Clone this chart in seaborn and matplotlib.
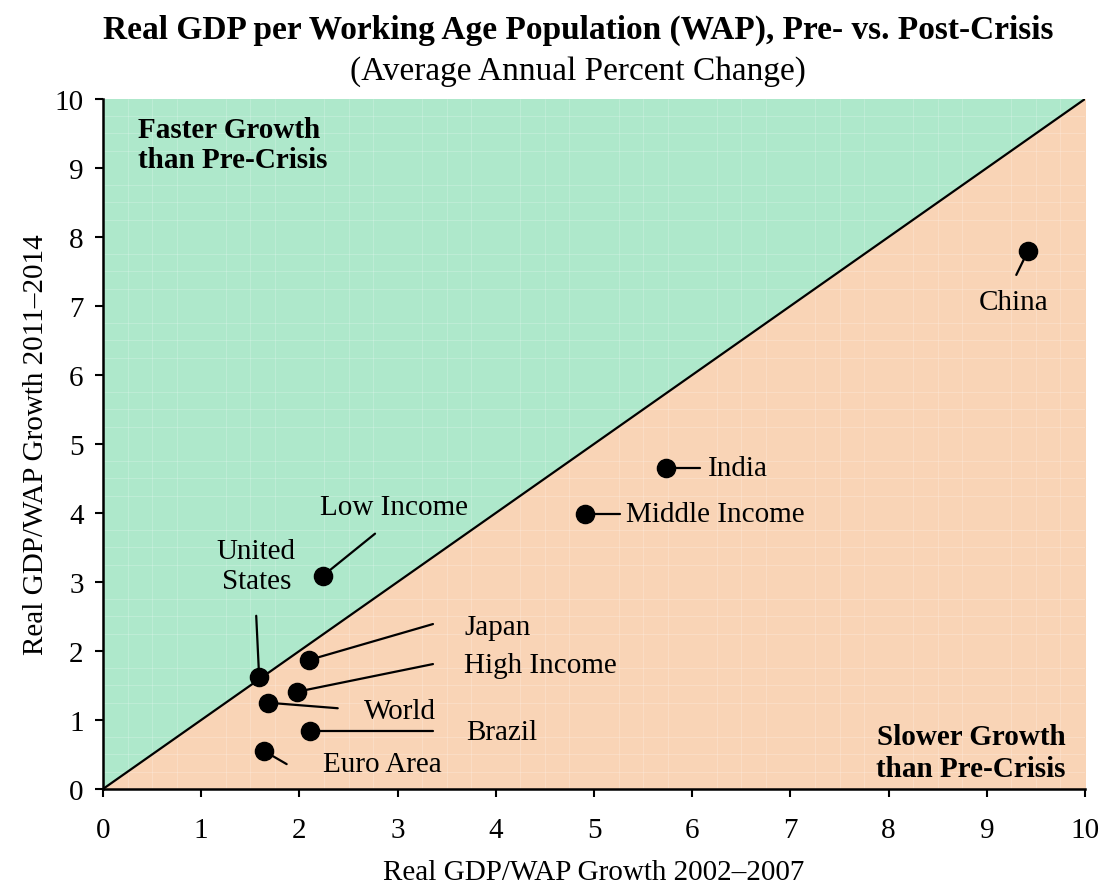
import matplotlib
matplotlib.use("Agg")
import matplotlib.pyplot as plt
import seaborn as sns
import pandas as pd

# --- data ---
names = ["China", "India", "Middle Income", "Low Income", "United States",
         "Japan", "High Income", "World", "Brazil", "Euro Area"]
pre_crisis = [9.42, 5.73, 4.91, 2.24, 1.59, 2.10, 1.98, 1.68, 2.11, 1.64]
post_crisis = [7.80, 4.65, 3.99, 3.09, 1.62, 1.87, 1.41, 1.25, 0.84, 0.55]

# label text position and leader-line end point for each country
label_text = ["China", "India", "Middle Income", "Low Income", "United\nStates",
              "Japan", "High Income", "World", "Brazil", "Euro Area"]
label_xy = [(9.27, 7.06), (6.16, 4.65), (5.33, 3.99), (2.96, 4.09), (1.56, 3.23),
            (3.68, 2.35), (3.68, 1.80), (2.66, 1.13), (3.70, 0.83), (2.24, 0.36)]
leader_end = [(9.3, 7.45), (6.08, 4.65), (5.26, 3.99), (2.77, 3.70), (1.56, 2.51),
              (3.36, 2.39), (3.36, 1.81), (2.39, 1.17), (3.36, 0.84), (1.87, 0.36)]
label_ha = ["center", "left", "left", "center", "center",
            "left", "left", "left", "left", "left"]

df = pd.DataFrame({"country": names, "pre": pre_crisis, "post": post_crisis})

sns.set_style("white")
plt.rcParams["font.family"] = ["Liberation Serif", "DejaVu Serif"]
plt.rcParams["text.color"] = "black"
plt.rcParams["axes.labelcolor"] = "black"
plt.rcParams["xtick.color"] = "black"
plt.rcParams["ytick.color"] = "black"

fig = plt.figure(figsize=(11.03, 8.87), dpi=100)
ax = fig.add_axes([0.0934, 0.1094, 0.8903, 0.7779])

# shaded regions above / below the 45-degree line
diag = [0, 10]
ax.fill_between(diag, diag, [10, 10], color="#aee8cb", zorder=0)
ax.fill_between(diag, [0, 0], diag, color="#f9d4b6", zorder=0)
ax.plot(diag, diag, color="black", lw=1.6, zorder=1)

# faint background grid like the original texture
ax.set_xticks([i * 0.25 for i in range(41)], minor=True)
ax.set_yticks([i * 0.25 for i in range(41)], minor=True)
ax.grid(which="minor", color="white", lw=0.4, alpha=0.35)

for (ex, ey), x, y in zip(leader_end, pre_crisis, post_crisis):
    ax.plot([x, ex], [y, ey], color="black", lw=1.6, zorder=2)

sns.scatterplot(data=df, x="pre", y="post", color="black", s=170,
                edgecolor="black", ax=ax, zorder=3)

for txt, (lx, ly), ha in zip(label_text, label_xy, label_ha):
    ax.text(lx, ly, txt, ha=ha, va="center", fontsize=21, linespacing=1.2)

ax.text(0.36, 9.75, "Faster Growth\nthan Pre-Crisis", ha="left", va="top",
        fontsize=21, fontweight="bold", linespacing=1.15)
ax.text(9.8, 0.1, "Slower Growth\nthan Pre-Crisis", ha="right", va="bottom",
        fontsize=21, fontweight="bold", linespacing=1.25)

ax.set_xlim(0, 10)
ax.set_ylim(0, 10)
ax.set_xticks(range(11))
ax.set_yticks(range(11))
ax.tick_params(axis="both", which="major", labelsize=21, direction="out",
               length=6, width=1.5, color="black", bottom=True, left=True)
ax.tick_params(axis="x", pad=14)
ax.tick_params(axis="y", pad=8)
ax.tick_params(which="minor", length=0)
for side in ["top", "right"]:
    ax.spines[side].set_visible(False)
for side in ["left", "bottom"]:
    ax.spines[side].set_color("black")
    ax.spines[side].set_linewidth(1.8)

ax.set_xlabel("Real GDP/WAP Growth 2002\u20132007", fontsize=21, labelpad=12)
ax.set_ylabel("Real GDP/WAP Growth 2011\u20132014", fontsize=21, labelpad=4)

fig.text(0.524, 0.966, "Real GDP per Working Age Population (WAP), Pre- vs. Post-Crisis",
         ha="center", va="center", fontsize=24, fontweight="bold")
fig.text(0.524, 0.919, "(Average Annual Percent Change)",
         ha="center", va="center", fontsize=24)

fig.savefig("out.png", dpi=100)
